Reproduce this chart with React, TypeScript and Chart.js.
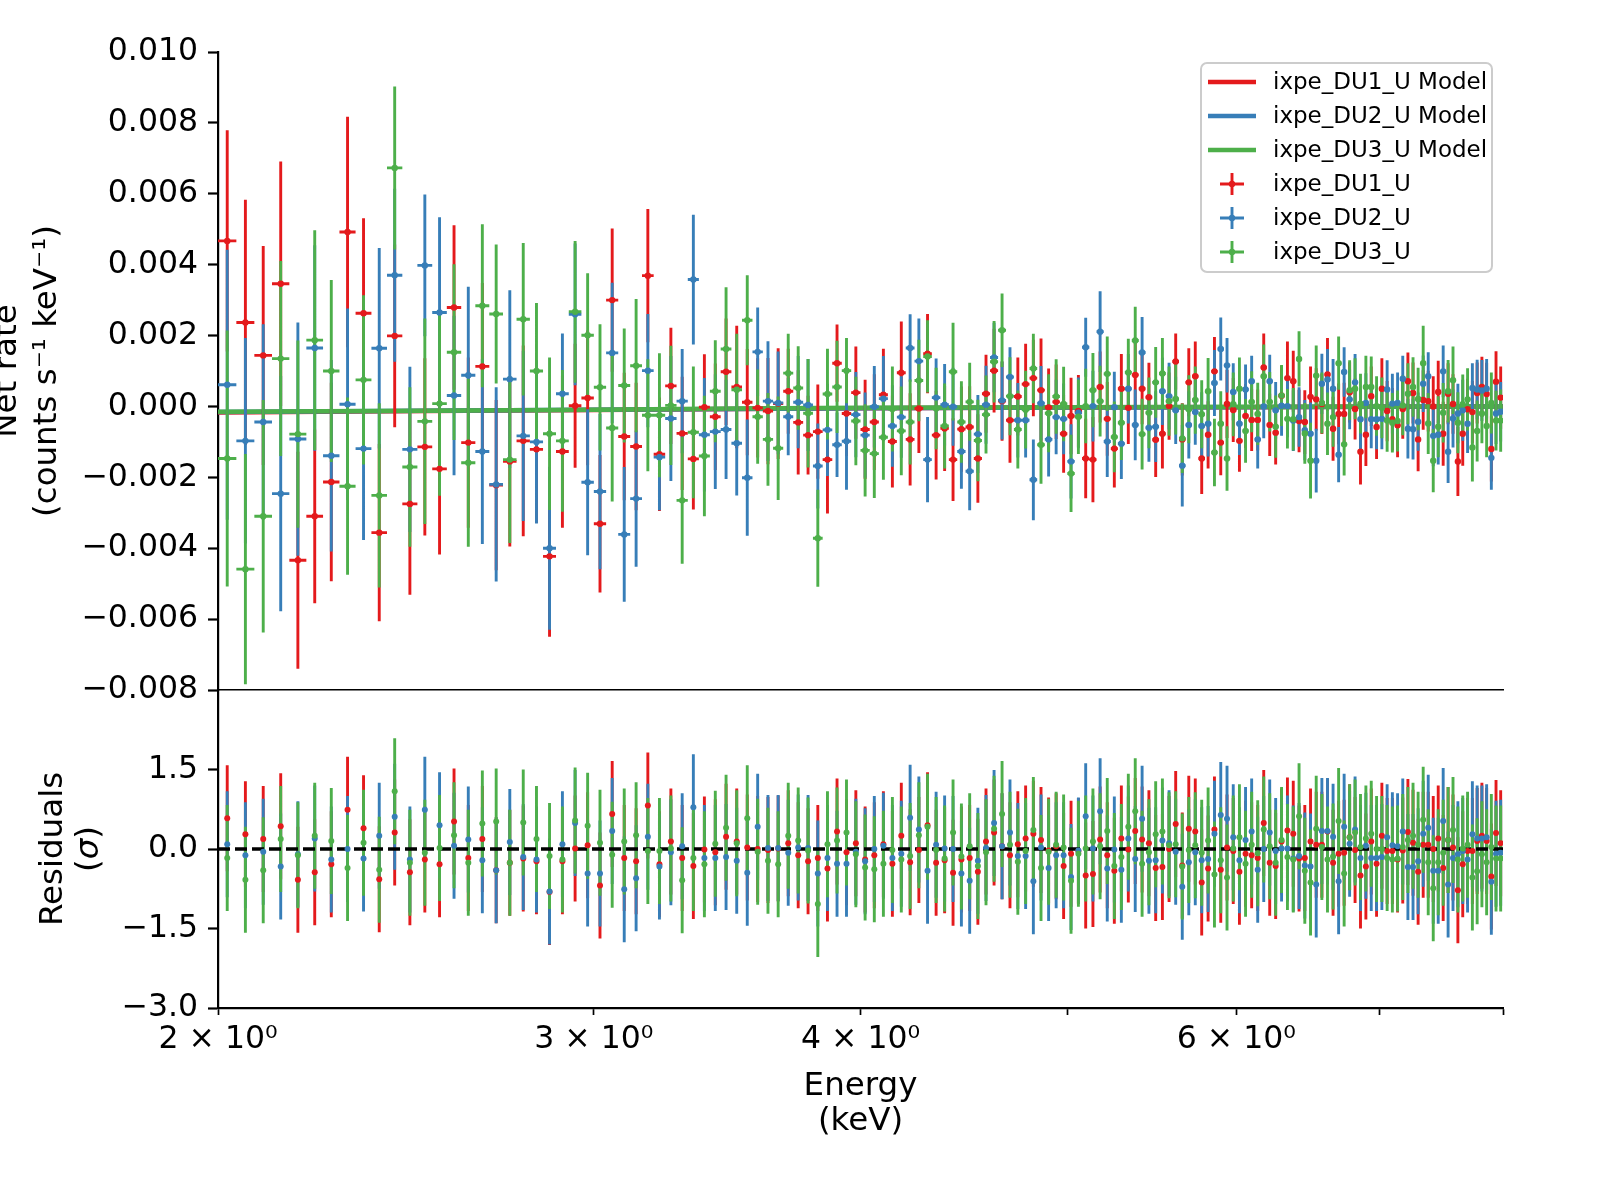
import React, { useEffect, useRef } from 'react';
import { Chart, registerables } from 'chart.js';

Chart.register(...registerables);

const FONT = "'DejaVu Sans', 'Liberation Sans', sans-serif";
Chart.defaults.font.family = FONT;

// ---------------- data ----------------
// bin centres (keV), 0.04 keV channels
const ENERGY_KEV = [
  2.02, 2.06, 2.10, 2.14, 2.18, 2.22, 2.26, 2.30, 2.34, 2.38,
  2.42, 2.46, 2.50, 2.54, 2.58, 2.62, 2.66, 2.70, 2.74, 2.78,
  2.82, 2.86, 2.90, 2.94, 2.98, 3.02, 3.06, 3.10, 3.14, 3.18,
  3.22, 3.26, 3.30, 3.34, 3.38, 3.42, 3.46, 3.50, 3.54, 3.58,
  3.62, 3.66, 3.70, 3.74, 3.78, 3.82, 3.86, 3.90, 3.94, 3.98,
  4.02, 4.06, 4.10, 4.14, 4.18, 4.22, 4.26, 4.30, 4.34, 4.38,
  4.42, 4.46, 4.50, 4.54, 4.58, 4.62, 4.66, 4.70, 4.74, 4.78,
  4.82, 4.86, 4.90, 4.94, 4.98, 5.02, 5.06, 5.10, 5.14, 5.18,
  5.22, 5.26, 5.30, 5.34, 5.38, 5.42, 5.46, 5.50, 5.54, 5.58,
  5.62, 5.66, 5.70, 5.74, 5.78, 5.82, 5.86, 5.90, 5.94, 5.98,
  6.02, 6.06, 6.10, 6.14, 6.18, 6.22, 6.26, 6.30, 6.34, 6.38,
  6.42, 6.46, 6.50, 6.54, 6.58, 6.62, 6.66, 6.70, 6.74, 6.78,
  6.82, 6.86, 6.90, 6.94, 6.98, 7.02, 7.06, 7.10, 7.14, 7.18,
  7.22, 7.26, 7.30, 7.34, 7.38, 7.42, 7.46, 7.50, 7.54, 7.58,
  7.62, 7.66, 7.70, 7.74, 7.78, 7.82, 7.86, 7.90, 7.94, 7.98,
];
const BIN_HALF_WIDTH_KEV = 0.02;

// net rates and errors in units of 1e-3 counts s^-1 keV^-1
const RATE_UNIT = 1e-3;

const DU1_RATE = [
  4.67, 2.37, 1.44, 3.46, -4.34, -3.10, -2.13, 4.92, 2.63, -3.56,
  1.99, -2.75, -1.14, -1.76, 2.79, -1.02, 1.13, -2.22, -1.55, -0.97,
  -1.21, -4.23, -1.27, 0.02, 0.24, -3.31, 3.00, -0.85, -1.13, 3.69,
  -1.35, 0.58, -0.76, -1.48, -0.02, -0.29, 0.98, 0.55, 0.12, -0.04,
  -0.13, 0.08, 0.43, -0.45, -0.81, -0.71, -1.50, 1.22, -0.20, 0.39,
  -0.65, -0.44, 0.33, -0.99, 0.95, -0.93, -0.06, 1.49, -0.81, -0.62,
  -1.50, -0.64, -0.58, -1.47, 0.36, 1.01, 0.15, -0.39, 0.28, 0.63,
  0.80, 0.46, -0.03, 0.13, -0.77, -0.27, -0.13, -1.47, -1.50, 0.55,
  -0.35, -1.19, 0.50, -0.04, 0.89, 0.50, 0.26, -0.94, -0.77, 0.01,
  1.27, -0.93, 0.68, 0.85, -1.47, -0.80, 0.99, -1.02, 0.07, -0.10,
  -0.97, -0.27, -0.38, -0.38, 1.10, -0.52, -0.74, 0.30, 0.80, 0.71,
  -0.41, -0.44, 0.27, 0.20, 0.07, 0.90, -0.63, -0.21, -0.21, 0.40,
  -0.07, -1.28, -0.80, 0.29, -0.58, 0.50, -0.13, -0.36, -0.53, -0.07,
  0.71, 0.38, -0.93, 0.18, 0.15, 0.00, 0.41, -0.77, 0.36, 0.07,
  -1.55, -0.77, -0.08, -0.16, 0.38, 0.55, 0.35, -1.20, 0.70, 0.25,
];
const DU1_ERR = [
  3.12, 3.46, 3.09, 3.45, 3.06, 2.45, 2.80, 3.25, 2.68, 2.50,
  2.58, 2.56, 2.50, 2.42, 2.32, 2.40, 2.35, 2.40, 2.40, 2.69,
  2.08, 2.27, 2.15, 1.75, 1.90, 1.94, 2.02, 1.80, 1.80, 1.88,
  1.60, 1.64, 1.60, 1.43, 1.49, 1.50, 1.50, 1.73, 1.50, 1.40,
  1.50, 1.56, 1.20, 1.47, 1.11, 1.33, 1.52, 1.09, 1.20, 1.30,
  1.40, 1.35, 1.30, 1.30, 1.45, 1.30, 1.25, 1.12, 1.25, 1.20,
  1.17, 1.20, 1.15, 1.25, 1.10, 1.18, 1.12, 1.20, 1.10, 1.14,
  1.08, 1.46, 1.10, 1.05, 1.10, 1.08, 1.02, 1.12, 1.20, 1.00,
  1.04, 1.10, 0.98, 1.02, 0.96, 1.00, 0.97, 1.05, 0.98, 0.95,
  0.79, 1.02, 0.96, 0.98, 1.00, 0.95, 0.97, 0.92, 0.96, 0.90,
  0.87, 0.90, 0.88, 0.86, 0.96, 0.88, 0.90, 0.85, 1.03, 0.86,
  0.88, 0.90, 0.86, 0.88, 0.85, 1.03, 0.90, 0.86, 0.88, 0.85,
  0.86, 0.92, 0.88, 0.84, 0.90, 0.86, 0.85, 0.88, 0.90, 0.84,
  0.81, 0.86, 0.90, 0.84, 0.86, 0.85, 0.88, 0.90, 0.86, 0.84,
  0.98, 0.90, 0.86, 0.88, 0.86, 0.85, 0.88, 0.92, 0.86, 0.88,
];
const DU2_RATE = [
  0.61, -0.97, -0.44, -2.46, -0.92, 1.65, -1.39, 0.06, -1.19, 1.64,
  3.70, -1.21, 3.98, 2.65, 0.31, 0.88, -1.27, -2.20, 0.77, -0.83,
  -1.00, -4.00, 0.36, 2.60, -2.14, -2.40, 1.51, -3.61, -2.60, 1.01,
  -1.43, -0.34, 0.15, 3.58, -0.80, -0.71, -0.65, -1.04, -2.01, 1.54,
  0.15, 0.10, -0.29, 0.12, 0.04, -1.68, -0.66, -1.08, -0.98, -0.23,
  -0.81, -0.01, 0.22, -0.55, -0.30, 1.65, 1.28, -1.50, 0.25, 0.05,
  -0.01, -1.27, -1.83, -0.78, 0.05, 1.38, 0.17, 0.83, -0.39, -0.39,
  -2.07, 0.09, -0.93, -0.30, -0.35, -1.55, -0.18, 1.67, 0.01, 2.11,
  -0.99, -0.02, -1.05, 0.50, -0.52, 1.52, -0.60, -0.57, 0.43, 0.29,
  -0.11, -1.67, -0.52, -0.16, -0.55, -0.49, 0.66, 1.62, 1.16, 0.41,
  -0.49, 0.48, 0.71, -0.93, 0.00, 0.71, -0.11, 0.02, 0.01, -0.40,
  -0.30, -0.67, -0.77, -1.53, 0.64, 0.76, 0.50, -1.36, 0.97, 0.20,
  0.68, -0.36, 0.10, -0.36, -0.36, -0.35, 0.48, 0.08, 0.10, 0.78,
  -0.63, -0.64, -0.43, 0.64, 0.85, -0.83, -0.80, 0.99, -1.28, -0.34,
  -0.20, -0.11, -0.49, 0.52, 0.48, 0.45, 0.50, -1.45, -0.20, -0.15,
];
const DU2_ERR = [
  3.81, 2.90, 2.76, 3.32, 3.29, 2.90, 2.70, 2.70, 2.58, 2.83,
  2.44, 2.33, 2.00, 2.69, 2.25, 2.50, 2.61, 2.74, 2.51, 2.40,
  2.30, 2.30, 1.70, 2.00, 2.06, 2.19, 1.98, 1.90, 1.92, 1.60,
  1.50, 1.76, 1.47, 1.83, 1.60, 1.62, 1.40, 1.47, 1.64, 1.25,
  1.69, 1.45, 1.09, 1.30, 1.30, 1.20, 1.30, 0.91, 1.37, 1.20,
  1.20, 1.15, 1.20, 1.15, 1.15, 0.95, 1.20, 1.20, 1.10, 1.15,
  1.10, 1.05, 1.10, 1.10, 1.10, 0.98, 1.10, 0.84, 1.05, 1.05,
  1.14, 1.05, 1.05, 1.05, 1.00, 1.05, 1.00, 0.83, 1.00, 1.14,
  1.00, 1.00, 1.00, 0.98, 1.00, 1.00, 0.96, 1.00, 0.95, 0.94,
  0.95, 1.15, 0.95, 0.92, 0.95, 0.92, 0.93, 0.89, 0.77, 0.81,
  0.88, 0.70, 0.72, 0.82, 0.90, 0.75, 0.80, 0.85, 0.88, 0.86,
  0.84, 0.85, 0.88, 0.90, 0.85, 0.86, 0.84, 0.78, 0.70, 0.84,
  0.80, 0.86, 0.84, 0.82, 0.85, 0.86, 0.82, 0.84, 0.86, 0.65,
  0.84, 0.86, 0.82, 0.80, 0.68, 0.86, 0.84, 0.73, 0.88, 0.82,
  0.84, 0.86, 0.82, 0.70, 0.84, 0.86, 0.84, 0.90, 0.86, 0.84,
];
const DU3_RATE = [
  -1.47, -4.59, -3.10, 1.35, -0.78, 1.87, 1.00, -2.25, 0.75, -2.51,
  6.73, -1.71, -0.42, 0.08, 1.53, -1.59, 2.84, 2.61, -1.50, 2.46,
  1.00, -0.77, -0.97, 2.67, 2.01, 0.54, -0.61, 0.59, 1.15, -0.25,
  -0.25, 0.03, -2.65, -0.73, -1.40, 0.43, 1.62, 0.47, 2.43, -0.29,
  -0.93, -1.18, 0.94, 0.52, -0.19, -3.72, 0.35, 0.55, 1.01, -0.41,
  -1.24, -1.33, -0.87, -0.07, -0.69, -0.44, 0.73, 1.41, -0.06, -0.55,
  0.98, -0.44, 0.13, -0.96, -0.23, 1.26, 2.15, 0.29, -0.65, -0.09,
  1.07, -1.08, -0.19, 0.28, 0.07, -1.89, -0.29, 0.01, 0.46, 0.15,
  0.92, -0.86, -0.46, 0.96, 1.86, -0.78, -0.18, 0.68, 0.93, 0.15,
  0.21, -0.90, -0.08, 0.18, -0.22, 0.43, -1.30, -0.49, -1.47, 0.06,
  0.50, -0.69, 0.13, -0.21, 0.85, 0.13, -0.57, 0.31, -0.35, -0.36,
  1.34, -0.76, -1.53, 0.87, 0.10, -0.49, -0.30, 1.22, -1.07, 0.46,
  0.50, 0.08, 0.55, 0.55, 0.01, -0.04, -0.40, -0.46, -0.41, 0.03,
  0.36, 0.55, 0.21, 1.22, -0.48, -1.53, -0.57, -0.18, 0.43, 0.74,
  -0.46, 0.06, 0.20, -1.16, -0.69, -0.20, -0.55, 0.10, -0.40, -0.40,
];
const DU3_ERR = [
  3.61, 3.25, 3.28, 2.75, 2.64, 3.10, 2.57, 2.50, 2.39, 2.60,
  2.30, 2.25, 2.90, 2.60, 2.48, 2.37, 2.30, 1.96, 2.35, 2.15,
  1.92, 2.15, 2.00, 2.00, 1.75, 1.78, 2.07, 1.61, 1.88, 1.58,
  1.75, 1.68, 1.79, 1.86, 1.70, 1.44, 1.74, 1.58, 1.27, 1.33,
  1.31, 1.46, 1.11, 1.18, 1.53, 1.37, 1.28, 1.30, 0.92, 1.25,
  1.30, 1.25, 1.20, 1.20, 1.25, 1.20, 1.15, 1.02, 1.15, 1.20,
  1.38, 1.15, 1.10, 1.15, 1.10, 1.15, 1.04, 1.10, 1.10, 1.10,
  0.98, 1.10, 1.10, 1.05, 1.05, 1.09, 1.05, 1.05, 1.05, 1.00,
  1.05, 1.00, 1.05, 0.95, 0.95, 1.00, 1.00, 1.00, 1.00, 0.98,
  1.00, 0.98, 0.96, 0.95, 0.96, 0.94, 0.95, 0.92, 0.91, 0.90,
  0.88, 0.90, 0.86, 0.88, 0.90, 0.84, 0.88, 0.86, 0.84, 0.88,
  0.78, 0.86, 1.07, 0.85, 0.86, 0.88, 0.84, 0.75, 0.88, 0.84,
  0.86, 0.84, 0.88, 0.86, 0.84, 0.86, 0.88, 0.84, 0.86, 0.84,
  0.86, 0.84, 0.88, 1.06, 0.86, 0.89, 0.86, 0.84, 0.88, 0.95,
  0.86, 0.84, 0.88, 0.96, 0.86, 0.84, 0.88, 0.86, 0.84, 0.88,
];

// residuals in sigma (each with a 1-sigma error bar)
const RESID_SIGMA = 1;
const DU1_RESID = [
  0.58, 0.28, 0.19, 0.43, -0.58, -0.44, -0.29, 0.74, 0.39, -0.57,
  0.31, -0.44, -0.20, -0.29, 0.52, -0.17, 0.19, -0.40, -0.26, -0.18,
  -0.23, -0.81, -0.23, 0.01, 0.07, -0.69, 0.66, -0.17, -0.23, 0.82,
  -0.29, 0.14, -0.17, -0.32, -0.01, -0.06, 0.23, 0.14, 0.03, 0.00,
  -0.02, 0.01, 0.11, -0.12, -0.23, -0.17, -0.37, 0.33, -0.06, 0.11,
  -0.20, -0.12, 0.09, -0.28, 0.25, -0.25, -0.02, 0.45, -0.26, -0.21,
  -0.45, -0.20, -0.17, -0.43, 0.14, 0.31, 0.05, -0.12, 0.09, 0.20,
  0.29, 0.17, -0.03, 0.05, -0.32, -0.09, -0.04, -0.50, -0.47, 0.18,
  -0.12, -0.41, 0.20, -0.01, 0.34, 0.18, 0.11, -0.36, -0.34, 0.00,
  0.47, -0.31, 0.38, 0.33, -0.63, -0.37, 0.37, -0.39, 0.03, -0.04,
  -0.43, -0.09, -0.12, -0.17, 0.49, -0.26, -0.32, 0.14, 0.35, 0.29,
  -0.18, -0.17, 0.14, 0.08, 0.08, 0.33, -0.26, -0.09, -0.07, 0.22,
  -0.02, -0.50, -0.33, 0.14, -0.28, 0.25, -0.04, -0.04, -0.20, -0.03,
  0.32, 0.12, -0.43, 0.08, 0.08, 0.00, 0.20, -0.36, 0.17, 0.03,
  -0.78, -0.29, -0.04, -0.04, 0.15, 0.25, 0.15, -0.52, 0.30, 0.11,
];
const DU2_RESID = [
  0.09, -0.12, -0.05, -0.33, -0.10, 0.20, -0.20, 0.00, -0.18, 0.25,
  0.61, -0.20, 0.74, 0.45, 0.06, 0.18, -0.21, -0.40, 0.13, -0.15,
  -0.20, -0.80, 0.09, 0.49, -0.46, -0.46, 0.34, -0.76, -0.55, 0.23,
  -0.33, -0.06, 0.05, 0.79, -0.17, -0.17, -0.15, -0.22, -0.45, 0.42,
  0.02, 0.02, -0.07, 0.03, 0.02, -0.46, -0.17, -0.28, -0.28, -0.05,
  -0.23, 0.00, 0.06, -0.17, -0.09, 0.59, 0.37, -0.41, 0.08, 0.01,
  0.00, -0.46, -0.60, -0.22, 0.02, 0.49, 0.05, 0.31, -0.13, -0.13,
  -0.61, 0.03, -0.36, -0.12, -0.12, -0.53, -0.03, 0.62, 0.01, 0.71,
  -0.37, -0.01, -0.39, 0.20, -0.19, 0.57, -0.22, -0.21, 0.16, 0.11,
  -0.05, -0.71, -0.25, -0.06, -0.21, -0.19, 0.29, 0.64, 0.57, 0.22,
  -0.21, 0.17, 0.33, -0.39, 0.00, 0.31, -0.04, 0.01, 0.01, -0.18,
  -0.13, -0.31, -0.33, -0.67, 0.34, 0.34, 0.23, -0.61, 0.42, 0.10,
  0.37, -0.17, 0.06, -0.17, -0.17, -0.15, 0.22, 0.07, 0.05, 0.33,
  -0.34, -0.34, -0.23, 0.29, 0.40, -0.41, -0.41, 0.53, -0.67, -0.17,
  -0.10, -0.04, -0.20, 0.28, 0.20, 0.20, 0.22, -0.62, -0.09, -0.07,
];
const DU3_RESID = [
  -0.17, -0.58, -0.40, 0.19, -0.12, 0.25, 0.15, -0.36, 0.12, -0.39,
  1.09, -0.26, -0.07, 0.02, 0.26, -0.26, 0.48, 0.52, -0.26, 0.50,
  0.19, -0.13, -0.20, 0.54, 0.44, 0.12, -0.11, 0.14, 0.26, -0.04,
  -0.04, 0.01, -0.59, -0.17, -0.29, 0.10, 0.40, 0.11, 0.58, -0.05,
  -0.22, -0.29, 0.25, 0.16, -0.03, -1.04, 0.09, 0.16, 0.31, -0.10,
  -0.35, -0.38, -0.28, -0.02, -0.20, -0.13, 0.26, 0.42, -0.02, -0.18,
  0.31, -0.14, 0.05, -0.32, -0.06, 0.38, 0.66, 0.08, -0.24, -0.04,
  0.36, -0.36, -0.05, 0.08, 0.03, -0.60, -0.09, 0.01, 0.14, 0.05,
  0.34, -0.32, -0.15, 0.42, 0.71, -0.28, -0.06, 0.28, 0.33, 0.07,
  0.09, -0.33, -0.02, 0.07, -0.07, 0.16, -0.48, -0.21, -0.54, 0.01,
  0.22, -0.28, 0.08, -0.08, 0.37, 0.05, -0.26, 0.17, -0.15, -0.20,
  0.62, -0.41, -0.63, 0.38, 0.04, -0.20, -0.14, 0.53, -0.46, 0.22,
  0.31, 0.04, 0.20, 0.29, 0.00, 0.00, -0.17, -0.20, -0.18, 0.04,
  0.17, 0.25, 0.08, 0.55, -0.25, -0.74, -0.25, -0.07, 0.17, 0.36,
  -0.20, 0.01, 0.08, -0.54, -0.42, -0.10, -0.25, 0.04, -0.18, -0.18,
];

// folded models (units of 1e-3)
const MODEL_E = [2.0, 2.5, 3.0, 3.5, 4.0, 5.0, 6.0, 7.0, 8.0];
const DU1_MODEL = [-0.17, -0.13, -0.10, -0.07, -0.05, -0.03, -0.02, -0.01, 0.0];
const DU2_MODEL = [-0.16, -0.12, -0.09, -0.07, -0.05, -0.03, -0.02, -0.01, -0.005];
const DU3_MODEL = [-0.15, -0.12, -0.09, -0.06, -0.04, -0.02, -0.01, -0.005, 0.0];

const SERIES_NAMES = ['ixpe_DU1_U', 'ixpe_DU2_U', 'ixpe_DU3_U'];
const COLORS = ['#e41a1c', '#377eb8', '#4daf4a'];

const X_MIN = 2;
const X_MAX = 8;
const X_TICKS = [2, 3, 4, 5, 6, 7, 8];
const X_TICK_LABELS = ['2 × 10⁰', '3 × 10⁰', '4 × 10⁰', '', '6 × 10⁰', '', ''];
const TOP_Y_MIN = -0.008;
const TOP_Y_MAX = 0.010;
const TOP_Y_TICKS = [-0.008, -0.006, -0.004, -0.002, 0, 0.002, 0.004, 0.006, 0.008, 0.010];
const TOP_Y_LABELS = ['−0.008', '−0.006', '−0.004', '−0.002', '0.000', '0.002', '0.004', '0.006', '0.008', '0.010'];
const RES_Y_MIN = -3;
const RES_Y_MAX = 3;
const RES_Y_TICKS = [-3, -1.5, 0, 1.5];
const RES_Y_LABELS = ['−3.0', '−1.5', '0.0', '1.5'];

const RATES = [DU1_RATE, DU2_RATE, DU3_RATE];
const ERRS = [DU1_ERR, DU2_ERR, DU3_ERR];
const RESIDS = [DU1_RESID, DU2_RESID, DU3_RESID];
const MODELS = [DU1_MODEL, DU2_MODEL, DU3_MODEL];

// ---------------- layout / style ----------------
const W = 1600;
const H = 1200;
const AREA_LEFT = 218;
const AREA_RIGHT = 1503;
const TOP_AREA_TOP = 52;
const SPLIT_Y = 690;
const BOTTOM_AREA_BOTTOM = 1008;
const BAR_WIDTH = 2.9;
const POINT_R = 3.2;
const TICK_FONT = 31.5;
const TITLE_FONT = 32.5;
const LEGEND_FONT = 23;

type BarSeries = { color: string; values: number[]; errors: number[] };

function makeErrorBarPlugin(series: BarSeries[], xHalf: number | null, beforeIndex: number) {
  return {
    id: 'errorBars',
    beforeDatasetDraw(chart: any, args: any) {
      if (args.index !== beforeIndex) return;
      const { ctx, chartArea, scales } = chart;
      const xs = scales.x;
      const ys = scales.y;
      ctx.save();
      ctx.beginPath();
      ctx.rect(chartArea.left, chartArea.top, chartArea.right - chartArea.left, chartArea.bottom - chartArea.top);
      ctx.clip();
      ctx.lineWidth = BAR_WIDTH;
      ctx.lineCap = 'butt';
      series.forEach((s) => {
        ctx.strokeStyle = s.color;
        ctx.beginPath();
        ENERGY_KEV.forEach((e, i) => {
          const px = xs.getPixelForValue(e);
          const v = s.values[i];
          const er = s.errors[i];
          if (xHalf !== null) {
            const py = ys.getPixelForValue(v);
            ctx.moveTo(xs.getPixelForValue(e - xHalf), py);
            ctx.lineTo(xs.getPixelForValue(e + xHalf), py);
          }
          ctx.moveTo(px, ys.getPixelForValue(v - er));
          ctx.lineTo(px, ys.getPixelForValue(v + er));
        });
        ctx.stroke();
      });
      ctx.restore();
    },
  };
}

function drawRotatedText(ctx: CanvasRenderingContext2D, text: string, x: number, y: number) {
  ctx.save();
  ctx.translate(x, y);
  ctx.rotate(-Math.PI / 2);
  ctx.textAlign = 'center';
  ctx.textBaseline = 'middle';
  ctx.fillText(text, 0, 0);
  ctx.restore();
}

const topTitlesPlugin = {
  id: 'topTitles',
  afterDraw(chart: any) {
    const { ctx, chartArea } = chart;
    const midY = (chartArea.top + chartArea.bottom) / 2;
    ctx.save();
    ctx.fillStyle = '#000';
    ctx.font = `${TITLE_FONT}px ${FONT}`;
    drawRotatedText(ctx, 'Net rate', chartArea.left - 210, midY);
    drawRotatedText(ctx, '(counts s⁻¹ keV⁻¹)', chartArea.left - 170, midY);
    ctx.restore();

    // legend
    const boxW = 291;
    const boxH = 209;
    const left = chartArea.right - 302;
    const top = chartArea.top + 11;
    ctx.save();
    ctx.beginPath();
    const r = 6;
    ctx.moveTo(left + r, top);
    ctx.lineTo(left + boxW - r, top);
    ctx.arcTo(left + boxW, top, left + boxW, top + r, r);
    ctx.lineTo(left + boxW, top + boxH - r);
    ctx.arcTo(left + boxW, top + boxH, left + boxW - r, top + boxH, r);
    ctx.lineTo(left + r, top + boxH);
    ctx.arcTo(left, top + boxH, left, top + boxH - r, r);
    ctx.lineTo(left, top + r);
    ctx.arcTo(left, top, left + r, top, r);
    ctx.closePath();
    ctx.fillStyle = 'rgba(255,255,255,0.8)';
    ctx.fill();
    ctx.strokeStyle = '#cccccc';
    ctx.lineWidth = 2;
    ctx.stroke();

    ctx.font = `${LEGEND_FONT}px ${FONT}`;
    ctx.textAlign = 'left';
    ctx.textBaseline = 'middle';
    const entries = [
      ...SERIES_NAMES.map((n, k) => ({ label: `${n} Model`, color: COLORS[k], kind: 'line' })),
      ...SERIES_NAMES.map((n, k) => ({ label: n, color: COLORS[k], kind: 'err' })),
    ];
    entries.forEach((en, k) => {
      const cy = top + 19 + k * 34;
      ctx.strokeStyle = en.color;
      if (en.kind === 'line') {
        ctx.lineWidth = 4.5;
        ctx.beginPath();
        ctx.moveTo(left + 7, cy);
        ctx.lineTo(left + 55, cy);
        ctx.stroke();
      } else {
        const cx = left + 31;
        ctx.lineWidth = BAR_WIDTH;
        ctx.beginPath();
        ctx.moveTo(cx - 12, cy);
        ctx.lineTo(cx + 12, cy);
        ctx.moveTo(cx, cy - 11);
        ctx.lineTo(cx, cy + 11);
        ctx.stroke();
        ctx.fillStyle = en.color;
        ctx.beginPath();
        ctx.arc(cx, cy, POINT_R, 0, Math.PI * 2);
        ctx.fill();
      }
      ctx.fillStyle = '#000';
      ctx.fillText(en.label, left + 72, cy + 1);
    });
    ctx.restore();
  },
};

const bottomTitlesPlugin = {
  id: 'bottomTitles',
  afterDraw(chart: any) {
    const { ctx, chartArea } = chart;
    const midY = (chartArea.top + chartArea.bottom) / 2;
    const midX = (chartArea.left + chartArea.right) / 2;
    ctx.save();
    ctx.fillStyle = '#000';
    ctx.font = `${TITLE_FONT}px ${FONT}`;
    drawRotatedText(ctx, 'Residuals', chartArea.left - 164, midY);
    // "(σ)" with italic sigma
    ctx.save();
    ctx.translate(chartArea.left - 128, midY);
    ctx.rotate(-Math.PI / 2);
    ctx.textBaseline = 'middle';
    ctx.textAlign = 'left';
    const normal = `${TITLE_FONT}px ${FONT}`;
    const italic = `italic ${TITLE_FONT}px ${FONT}`;
    ctx.font = normal;
    const wOpen = ctx.measureText('(').width;
    const wClose = ctx.measureText(')').width;
    ctx.font = italic;
    const wSig = ctx.measureText('σ').width;
    const total = wOpen + wSig + wClose;
    let x0 = -total / 2;
    ctx.font = normal;
    ctx.fillText('(', x0, 0);
    x0 += wOpen;
    ctx.font = italic;
    ctx.fillText('σ', x0, 0);
    x0 += wSig;
    ctx.font = normal;
    ctx.fillText(')', x0, 0);
    ctx.restore();

    ctx.font = `${TITLE_FONT}px ${FONT}`;
    ctx.textAlign = 'center';
    ctx.textBaseline = 'middle';
    ctx.fillText('Energy', midX, chartArea.bottom + 79);
    ctx.fillText('(keV)', midX, chartArea.bottom + 114);
    ctx.restore();
  },
};

function xScale(withTicks: boolean) {
  return {
    type: 'logarithmic',
    min: X_MIN,
    max: X_MAX,
    afterBuildTicks: (s: any) => {
      s.ticks = X_TICKS.map((v) => ({ value: v }));
    },
    afterFit: (s: any) => {
      s.height = withTicks ? 80 : 10;
    },
    ticks: {
      display: withTicks,
      autoSkip: false,
      maxRotation: 0,
      minRotation: 0,
      color: '#000',
      padding: 6,
      font: { size: TICK_FONT, family: FONT },
      callback: (_v: any, i: number) => X_TICK_LABELS[i] ?? '',
    },
    grid: {
      display: withTicks,
      drawOnChartArea: false,
      drawTicks: withTicks,
      tickLength: 7,
      tickWidth: 1.7,
      tickColor: '#000',
    },
    border: { display: true, color: '#000', width: withTicks ? 2.2 : 1.5 },
  };
}

function yScale(min: number, max: number, ticks: number[], labels: string[]) {
  return {
    type: 'linear',
    min,
    max,
    afterBuildTicks: (s: any) => {
      s.ticks = ticks.map((v) => ({ value: v }));
    },
    afterFit: (s: any) => {
      s.width = AREA_LEFT;
    },
    ticks: {
      color: '#000',
      padding: 10,
      font: { size: TICK_FONT, family: FONT },
      callback: (_v: any, i: number) => labels[i] ?? '',
    },
    grid: {
      drawOnChartArea: false,
      drawTicks: true,
      tickLength: 10,
      tickWidth: 2.2,
      tickColor: '#000',
    },
    border: { display: true, color: '#000', width: 2.2 },
  };
}

const baseOptions = {
  animation: false,
  responsive: false,
  devicePixelRatio: 1,
  events: [],
  plugins: { legend: { display: false }, tooltip: { enabled: false } },
};

function topConfig(): any {
  const modelSets = MODELS.map((m, k) => ({
    type: 'line',
    label: `${SERIES_NAMES[k]} Model`,
    data: MODEL_E.map((e, j) => ({ x: e, y: m[j] * RATE_UNIT })),
    borderColor: COLORS[k],
    backgroundColor: COLORS[k],
    borderWidth: 4.5,
    pointRadius: 0,
    fill: false,
    tension: 0,
    order: 6 - k,
  }));
  const dataSets = RATES.map((rate, k) => ({
    type: 'scatter',
    label: SERIES_NAMES[k],
    data: ENERGY_KEV.map((e, i) => ({ x: e, y: rate[i] * RATE_UNIT })),
    backgroundColor: COLORS[k],
    borderColor: COLORS[k],
    borderWidth: 0,
    pointRadius: POINT_R,
    order: 3 - k,
  }));
  const barSeries: BarSeries[] = RATES.map((rate, k) => ({
    color: COLORS[k],
    values: rate.map((v) => v * RATE_UNIT),
    errors: ERRS[k].map((v) => v * RATE_UNIT),
  }));
  return {
    type: 'scatter',
    data: { datasets: [...modelSets, ...dataSets] },
    options: {
      ...baseOptions,
      layout: { padding: { left: 0, right: W - AREA_RIGHT, top: TOP_AREA_TOP, bottom: H - SPLIT_Y - 10 } },
      scales: {
        x: xScale(false),
        y: yScale(TOP_Y_MIN, TOP_Y_MAX, TOP_Y_TICKS, TOP_Y_LABELS),
      },
    },
    plugins: [makeErrorBarPlugin(barSeries, BIN_HALF_WIDTH_KEV, modelSets.length), topTitlesPlugin],
  };
}

function bottomConfig(): any {
  const zeroLine = {
    type: 'line',
    label: 'zero',
    data: [
      { x: X_MIN, y: 0 },
      { x: X_MAX, y: 0 },
    ],
    borderColor: '#000',
    borderWidth: 3.5,
    borderDash: [12, 5],
    pointRadius: 0,
    fill: false,
    order: 4,
  };
  const resSets = RESIDS.map((res, k) => ({
    type: 'scatter',
    label: SERIES_NAMES[k],
    data: ENERGY_KEV.map((e, i) => ({ x: e, y: res[i] })),
    backgroundColor: COLORS[k],
    borderColor: COLORS[k],
    borderWidth: 0,
    pointRadius: 3,
    order: 3 - k,
  }));
  const barSeries: BarSeries[] = RESIDS.map((res, k) => ({
    color: COLORS[k],
    values: res,
    errors: res.map(() => RESID_SIGMA),
  }));
  return {
    type: 'scatter',
    data: { datasets: [zeroLine, ...resSets] },
    options: {
      ...baseOptions,
      layout: { padding: { left: 0, right: W - AREA_RIGHT, top: SPLIT_Y, bottom: H - BOTTOM_AREA_BOTTOM - 80 } },
      scales: {
        x: xScale(true),
        y: yScale(RES_Y_MIN, RES_Y_MAX, RES_Y_TICKS, RES_Y_LABELS),
      },
    },
    plugins: [makeErrorBarPlugin(barSeries, null, 0), bottomTitlesPlugin],
  };
}

export default function App() {
  const topRef = useRef<HTMLCanvasElement>(null);
  const botRef = useRef<HTMLCanvasElement>(null);
  useEffect(() => {
    const top = new Chart(topRef.current as HTMLCanvasElement, topConfig());
    const bot = new Chart(botRef.current as HTMLCanvasElement, bottomConfig());
    return () => {
      top.destroy();
      bot.destroy();
    };
  }, []);
  const canvasStyle: React.CSSProperties = { position: 'absolute', left: 0, top: 0, width: W, height: H };
  return (
    <div style={{ position: 'fixed', left: 0, top: 0, width: W, height: H, background: '#fff', overflow: 'hidden' }}>
      <canvas ref={botRef} width={W} height={H} style={canvasStyle} />
      <canvas ref={topRef} width={W} height={H} style={canvasStyle} />
    </div>
  );
}
